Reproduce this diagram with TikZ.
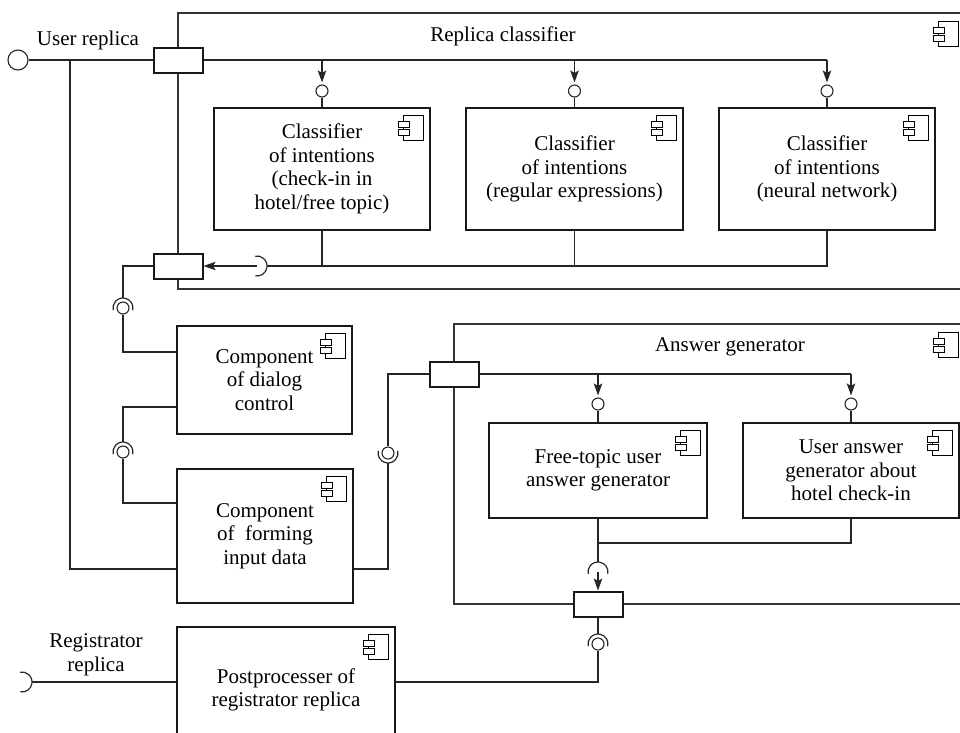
\documentclass[tikz,border=0pt]{standalone}
\usepackage{fontspec}
\setmainfont{Liberation Serif}
\usetikzlibrary{arrows.meta}
\tikzset{
  conn/.style={draw=black!85, line width=1.2pt},
  arr/.style={conn, -{Stealth[length=12pt,width=8.5pt,inset=2.5pt]}, shorten >=2pt},
  comp/.style={draw=black!90, line width=2.2pt, fill=white, align=center, inner sep=0pt, font=\fontsize{21}{23.5}\selectfont},
  outer/.style={draw=black!80, line width=1.2pt, inner sep=0pt},
  port/.style={draw=black!90, line width=2pt, fill=white, minimum width=49pt, minimum height=25pt, inner sep=0pt},
  ball/.style={circle, draw=black!85, line width=1.1pt, fill=white, inner sep=0pt, minimum size=12pt},
  lab/.style={font=\fontsize{21}{23.5}\selectfont, align=center, inner sep=0pt},
  sock/.pic={
    \draw[conn] (-10:10pt) arc[start angle=-10, end angle=190, radius=10pt];
    \coordinate (-top) at (90:10pt);
    \coordinate (-c) at (0,0);
  },
  ballsock/.pic={
    \draw[conn] (-12:10pt) arc[start angle=-12, end angle=192, radius=10pt];
    \node[ball] (-ball) at (0,0) {};
    \coordinate (-top) at (90:10pt);
  },
  compicon/.pic={
    \draw[line width=0.9pt, fill=white] (-20,0) rectangle (0,25);
    \draw[line width=0.9pt, fill=white] (-25,6) rectangle (-14,12);
    \draw[line width=0.9pt, fill=white] (-25,14) rectangle (-14,20);
  },
}

\begin{document}
\begin{tikzpicture}[x=1pt,y=-1pt]
  \useasboundingbox (0,0) rectangle (960,732);
  \clip (0,0) rectangle (960,732);
  % outer components
  \node[outer, minimum width=822pt, minimum height=276pt] (rc) at (589,151) {};
  \node[outer, minimum width=547pt, minimum height=280pt] (ag) at (727.5,464) {};
  \node[lab] (rct) at (503,36) {Replica classifier};
  \node[lab] (agt) at (730,347) {Answer generator};
  \pic at (958,21) {compicon};
  \pic at (958,332) {compicon};

  \node[port] (p1) at (178,60) {};
  \node[port] (p2) at (178,266) {};
  \node[port] (p3) at (454,374) {};
  \node[port] (p4) at (598,604) {};

  \node[ball, minimum size=20pt] (uin) at (18,60) {};
  \node[lab] (ulab) at (88,40) {User replica};
  \node[lab] (rlab) at (96,655) {Registrator\\replica};

  \node[comp, minimum width=216pt, minimum height=122pt] (c1) at (322,169) {Classifier\\of intentions\\(check-in in\\hotel/free topic)};
  \node[comp, minimum width=217pt, minimum height=122pt] (c2) at (574.5,169) {Classifier\\of intentions\\(regular expressions)};
  \node[comp, minimum width=216pt, minimum height=122pt] (c3) at (827,169) {Classifier\\of intentions\\(neural network)};
  \node[comp, minimum width=175pt, minimum height=108pt] (dlg) at (264.5,380) {Component\\of dialog\\control};
  \node[comp, minimum width=176pt, minimum height=134pt] (form) at (265,536) {Component\\of~~forming\\input data};
  \node[comp, minimum width=218pt, minimum height=95pt] (ag1) at (598,470.5) {Free-topic user\\answer generator};
  \node[comp, minimum width=216pt, minimum height=95pt] (ag2) at (851,470.5) {User answer\\generator about\\hotel check-in};
  \node[comp, minimum width=218pt, minimum height=126pt] (post) at (286,690) {Postprocesser of\\registrator replica};
  \foreach \n in {c1,c2,c3,dlg,form,ag1,ag2,post}
    \pic at ([shift={(-8,9)}]\n.north east) {compicon};

  % sockets
  \pic[rotate=-90] (s6) at (257,266) {sock};
  \pic (s1) at (123,308) {ballsock};
  \pic (s2) at (123,452) {ballsock};
  \pic[rotate=180] (s3) at (388,453) {ballsock};
  \pic (s4) at (598,572) {sock};
  \pic (s5) at (598,644) {ballsock};
  \pic[rotate=-90] (s7) at (22,682) {sock};

  % user replica into the classifiers
  \draw[conn] (uin) -- (p1);
  \coordinate (bl) at (0,91);
  \foreach \n in {1,2,3}{
    \coordinate (t\n) at (c\n.north |- p1);
    \node[ball] (b\n) at (c\n.north |- bl) {};
    \draw[arr] (t\n) -- (b\n);
    \draw[conn] (b\n) -- (c\n);
  }
  \draw[conn] (p1) -- (t3);
  \foreach \n in {c1,c2}
    \draw[conn] (\n) -- (\n.south |- s6-top);
  \draw[conn] (c3) |- (s6-top);
  \draw[arr, shorten >=0pt] (s6-c) -- (p2);

  % dialog control and input data
  \coordinate (j0) at (70,60);
  \coordinate (d1) at (123,352);
  \coordinate (d2) at (123,407);
  \coordinate (f1) at (123,503);
  \coordinate (f2) at (388,569);
  \draw[conn] (p2) -| (s1-top);
  \draw[conn] (s1-ball) |- (dlg.west |- d1);
  \draw[conn] (dlg.west |- d2) -| (s2-top);
  \draw[conn] (s2-ball) |- (form.west |- f1);
  \draw[conn] (j0) |- (form.west |- f2);
  \draw[conn] (form.east |- f2) -- (f2) -- (s3-top);
  \draw[conn] (s3-ball) |- (p3);

  % answer generator
  \coordinate (al) at (0,404);
  \foreach \n in {1,2}{
    \coordinate (u\n) at (ag\n.north |- p3);
    \node[ball] (v\n) at (ag\n.north |- al) {};
    \draw[arr] (u\n) -- (v\n);
    \draw[conn] (v\n) -- (ag\n);
  }
  \draw[conn] (p3) -- (u2);
  \coordinate (m1) at (598,543);
  \draw[conn] (ag2) |- (m1);
  \draw[conn] (ag1) -- (s4-top);
  \draw[arr, shorten >=0pt] (s4-c) -- (p4);
  \draw[conn] (p4) -- (s5-top);
  \coordinate (r1) at (598,682);
  \draw[conn] (s5-ball) |- (post.east |- r1);
  \draw[conn] (post.west |- r1) -- (s7-top);
\end{tikzpicture}
\end{document}
